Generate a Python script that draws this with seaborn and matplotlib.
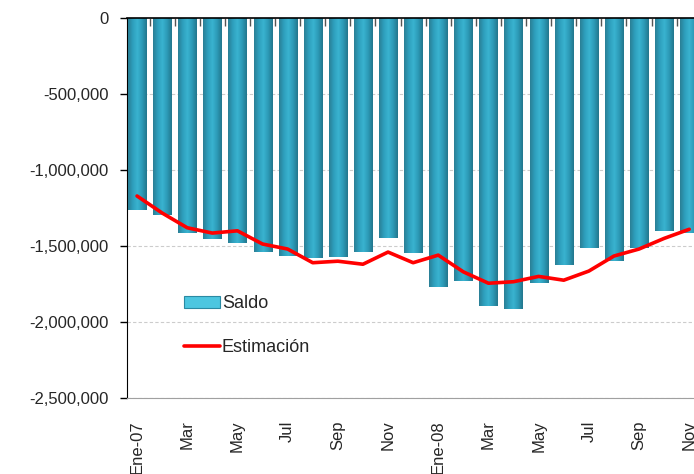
import numpy as np
import pandas as pd
import matplotlib
matplotlib.use("Agg")
import matplotlib.pyplot as plt
from matplotlib.patches import Patch
from matplotlib.lines import Line2D
from matplotlib.colors import LinearSegmentedColormap
from matplotlib.ticker import FixedLocator, FuncFormatter
import seaborn as sns

# --- data ---
months = ['Ene-07', 'Feb', 'Mar', 'Abr', 'May', 'Jun', 'Jul', 'Ago', 'Sep', 'Oct', 'Nov', 'Dic',
          'Ene-08', 'Feb', 'Mar', 'Abr', 'May', 'Jun', 'Jul', 'Ago', 'Sep', 'Oct', 'Nov']
saldo = [-1263000, -1296000, -1414000, -1454000, -1480000, -1540000, -1566000, -1580000,
         -1572000, -1540000, -1447000, -1546000, -1770000, -1730000, -1895000, -1915000,
         -1743000, -1625000, -1513000, -1598000, -1513000, -1401000, -1414000]
estimacion = [-1171000, -1283000, -1380000, -1415000, -1400000, -1487000, -1520000, -1610000,
              -1600000, -1620000, -1540000, -1610000, -1560000, -1670000, -1745000, -1735000,
              -1700000, -1725000, -1665000, -1566000, -1520000, -1450000, -1390000]
yticks = [0, -500000, -1000000, -1500000, -2000000, -2500000]

df = pd.DataFrame({'pos': np.arange(len(months)), 'mes': months,
                   'saldo': saldo, 'estimacion': estimacion})

sns.set_style('white')
plt.rcParams['font.family'] = ['Liberation Sans', 'DejaVu Sans']

fig = plt.figure(figsize=(6.94, 4.74), dpi=100)
ax = fig.add_axes([127 / 694, 1 - 398 / 474, 1 - 127 / 694, 380 / 474])

bar_col = '#2b98b4'
sns.barplot(data=df, x='pos', y='saldo', color=bar_col, width=0.72, saturation=1,
            edgecolor='none', linewidth=0, native_scale=True, ax=ax, zorder=3)
sns.lineplot(data=df, x='pos', y='estimacion', color='#ff0000', linewidth=2.6,
             ax=ax, zorder=5)

ax.set_xlim(-0.4, 22.19)
ax.set_ylim(-2500000, 0)

# cylinder-like shading on each bar
cyl = LinearSegmentedColormap.from_list(
    'cyl', ['#2a7f95', '#2e9fbd', '#3ab3d0', '#2c9ab7', '#23778d'])
grad = np.linspace(0, 1, 64).reshape(1, -1)
for bar in ax.patches:
    x0, y0 = bar.get_x(), bar.get_y()
    w, h = bar.get_width(), bar.get_height()
    im = ax.imshow(grad, cmap=cyl, aspect='auto', zorder=4,
                   extent=(x0, x0 + w, y0 + h, y0), interpolation='bilinear')
    im.set_clip_path(bar)
ax.set_xlim(-0.4, 22.19)
ax.set_ylim(-2500000, 0)

ax.set_yticks(yticks)
ax.yaxis.set_major_formatter(FuncFormatter(lambda v, p: f'{int(v):,}'))
ax.grid(axis='y', color='#cccccc', linestyle=(0, (3, 2)), linewidth=0.8, zorder=0)
ax.grid(axis='x', visible=False)

# category labels every other month
ax.set_xticks(df['pos'][::2])
ax.set_xticklabels(df['mes'][::2], rotation=90, ha='center', va='top')
ax.tick_params(axis='x', which='major', length=0, pad=16, labelsize=12)
ax.tick_params(axis='y', which='major', left=True, length=5, width=1, pad=8,
               labelsize=12, color='black')

# tick marks between bars on the zero line
ax.xaxis.set_minor_locator(FixedLocator(df['pos'][:-1] + 0.5))
ax.tick_params(axis='x', which='minor', top=True, bottom=False, direction='in',
               length=6, width=1, color='#555555')

ax.set_xlabel('')
ax.set_ylabel('')
ax.spines['right'].set_visible(False)
ax.spines['left'].set_color('black')
ax.spines['top'].set_color('black')
ax.spines['top'].set_linewidth(1.2)
ax.spines['top'].set_zorder(6)
ax.spines['bottom'].set_color('#a0a0a0')

handles = [Patch(facecolor='#4cc6e0', edgecolor='#2a8aa3', linewidth=0.8),
           Line2D([0], [0], color='#ff0000', linewidth=2.6)]
ax.legend(handles, ['Saldo', 'Estimación'], loc='center left',
          bbox_to_anchor=(0.072, 0.19), frameon=False, fontsize=13,
          handlelength=2.0, handleheight=0.6, handletextpad=0.1, labelspacing=1.5)

fig.savefig('out.png', dpi=100)
